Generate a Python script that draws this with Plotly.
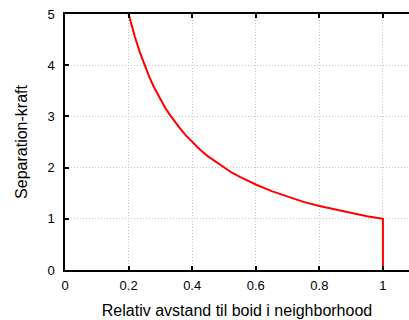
import plotly.graph_objects as go

distance = [0.2, 0.21, 0.22, 0.235, 0.25, 0.265, 0.28, 0.3, 0.315, 0.33, 0.345, 0.36,
            0.38, 0.4, 0.425, 0.45, 0.475, 0.5, 0.525, 0.55, 0.575, 0.6,
            0.65, 0.7, 0.75, 0.8, 0.85, 0.9, 0.95, 1.0, 1.0]
force = [5.0, 4.76, 4.55, 4.26, 4.0, 3.77, 3.57, 3.33, 3.17, 3.03, 2.9, 2.78,
         2.63, 2.5, 2.35, 2.22, 2.11, 2.0, 1.9, 1.82, 1.74, 1.67,
         1.54, 1.43, 1.33, 1.25, 1.18, 1.11, 1.05, 1.0, 0.0]

x_ticks = [0, 0.2, 0.4, 0.6, 0.8, 1]
y_ticks = [0, 1, 2, 3, 4, 5]

fig = go.Figure(go.Scatter(x=distance, y=force, mode="lines",
                           line=dict(color="#ff0000", width=2),
                           hoverinfo="skip"))

font = dict(family="Liberation Sans, Arial, sans-serif", size=13, color="#000000")

fig.update_layout(
    width=409, height=320,
    margin=dict(l=65, r=0, t=14, b=50, autoexpand=False),
    paper_bgcolor="white", plot_bgcolor="white",
    font=font, showlegend=False, hovermode=False,
    xaxis=dict(range=[0, 1.082], tickvals=x_ticks, ticktext=["0", "0.2", "0.4", "0.6", "0.8", "1"],
               showline=True, linecolor="#000000", linewidth=1.5, mirror="allticks",
               ticks="inside", ticklen=4, tickcolor="#000000", tickwidth=1.5,
               showgrid=True, gridcolor="#c4c4c4", griddash="1px,2px", gridwidth=1,
               zeroline=False, automargin=False,
               title=dict(text="Relativ avstand til boid i neighborhood", standoff=12),
               ticklabelstandoff=3),
    yaxis=dict(range=[0, 5], tickvals=y_ticks,
               showline=True, linecolor="#000000", linewidth=1.5, mirror=False,
               ticks="inside", ticklen=4, tickcolor="#000000", tickwidth=1.5,
               showgrid=True, gridcolor="#c4c4c4", griddash="1px,2px", gridwidth=1,
               zeroline=False, automargin=False, ticklabelstandoff=6,
               title=dict(text="Separation-kraft", standoff=16)),
)

fig.write_html("out.html", config={"displayModeBar": False},
               post_script="document.body.style.margin='0';")
